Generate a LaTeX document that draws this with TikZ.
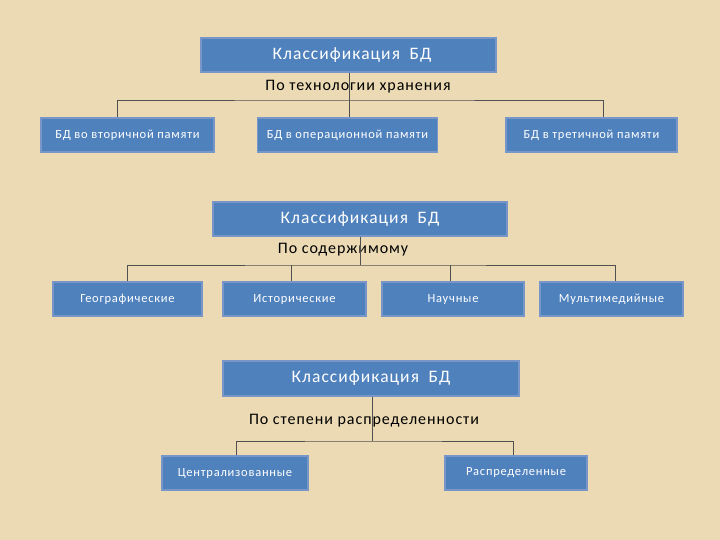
\documentclass[tikz,border=0pt]{standalone}
\usepackage{fontspec}
\setmainfont{Carlito}
\newfontfamily\spaced[LetterSpace=6]{Carlito}
\definecolor{bg}{RGB}{235,218,180}
\definecolor{boxfill}{RGB}{79,129,189}
\definecolor{boxline}{RGB}{120,150,200}
\definecolor{conn}{RGB}{80,80,80}
\tikzset{
  title/.style={draw=boxline, line width=1.2pt, fill=boxfill, text=white, font=\spaced\fontsize{17.5}{19}\selectfont, minimum height=34pt, inner sep=0pt},
  leaf/.style={draw=boxline, line width=1.2pt, fill=boxfill, text=white, font=\spaced\fontsize{12.5}{14}\selectfont, minimum height=34pt, inner sep=0pt},
  lbl/.style={text=black, font=\spaced\fontsize{16}{18}\selectfont, inner sep=0pt},
  conn/.style={draw=conn, line width=0.6pt}
}
\newcommand{\ttl}{Классификация\hspace{0.55em}БД}
\begin{document}
\begin{tikzpicture}[x=1pt,y=-1pt]
\fill[bg] (0,0) rectangle (720,540);
\useasboundingbox (0,0) rectangle (720,540);
% group 1
\node[title, minimum width=295pt] (t1) at (348.5,55) {\hspace{7pt}\ttl};
\node[lbl] (l1) at (358,87) {По технологии хранения};
\node[leaf, minimum width=173pt] (a1) at (127.5,135) {БД во вторичной памяти};
\node[leaf, minimum width=180pt] (b1) at (347.5,135) {БД в операционной памяти};
\node[leaf, minimum width=171pt] (c1) at (591.5,135) {БД в третичной памяти};
\coordinate (j1) at (349,100);
\draw[conn] (t1.south -| j1) -- (j1);
\draw[conn] ([xshift=-10.5pt]a1.north) |- (j1) -| ([xshift=11.5pt]c1.north);
\draw[conn] (j1) -- (b1.north -| j1);
% group 2
\node[title, minimum width=294pt] (t2) at (360,219) {\ttl};
\node[lbl] (l2) at (343,250) {По содержимому};
\node[leaf, minimum width=149pt] (g1) at (127.5,299) {Географические};
\node[leaf, minimum width=143pt] (g2) at (294.5,299) {Исторические};
\node[leaf, minimum width=142pt] (g3) at (453,299) {Научные};
\node[leaf, minimum width=143pt] (g4) at (611.5,299) {Мультимедийные};
\coordinate (j2) at (360,265);
\draw[conn] (t2.south) -- (j2);
\draw[conn] (g1.north) |- (j2) -| ([xshift=3.5pt]g4.north);
\draw[conn] ([xshift=-3.5pt]g2.north) -- ([xshift=-3.5pt]g2.north |- j2);
\draw[conn] ([xshift=-3pt]g3.north) -- ([xshift=-3pt]g3.north |- j2);
% group 3
\node[title, minimum width=296pt, minimum height=35pt] (t3) at (371,378.5) {\ttl};
\node[lbl] (l3) at (364,421) {По степени распределенности};
\node[leaf, minimum width=146pt] (h1) at (235,473) {Централизованные};
\node[leaf, minimum width=142pt] (h2) at (516,473) {Распределенные};
\coordinate (j3) at (372,441);
\draw[conn] (t3.south -| j3) -- (j3);
\draw[conn] ([xshift=1pt]h1.north) |- (j3) -| ([xshift=-3pt]h2.north);
\end{tikzpicture}
\end{document}
